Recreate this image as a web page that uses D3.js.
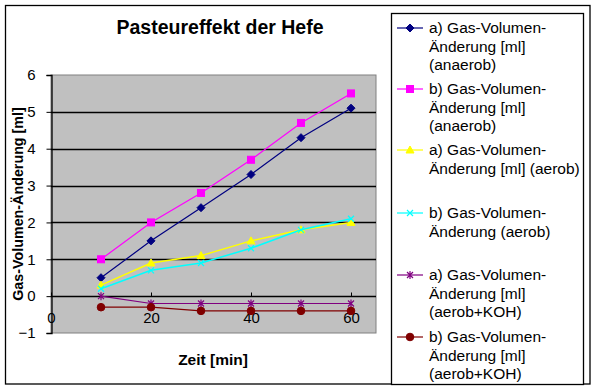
<!DOCTYPE html>
<html><head><meta charset="utf-8">
<script src="https://cdn.jsdelivr.net/npm/d3@7"></script>
<style>body{margin:0;background:#fff}svg text{font-family:"Liberation Sans",Arial,sans-serif}</style>
</head><body><svg id="c" width="597" height="391"></svg>
<script>
const xValues = [10, 20, 30, 40, 50, 60];
const seriesNames = [
  ["a) Gas-Volumen-", "Änderung [ml]", "(anaerob)"],
  ["b) Gas-Volumen-", "Änderung [ml]", "(anaerob)"],
  ["a) Gas-Volumen-", "Änderung [ml] (aerob)"],
  ["b) Gas-Volumen-", "Änderung (aerob)"],
  ["a) Gas-Volumen-", "Änderung [ml]", "(aerob+KOH)"],
  ["b) Gas-Volumen-", "Änderung [ml]", "(aerob+KOH)"]
];
const aAnaerob = [0.5, 1.5, 2.4, 3.3, 4.3, 5.1];
const bAnaerob = [1.0, 2.0, 2.8, 3.7, 4.7, 5.5];
const aAerob = [0.3, 0.9, 1.1, 1.5, 1.8, 2.0];
const bAerob = [0.2, 0.7, 0.9, 1.3, 1.8, 2.1];
const aKOH = [0.0, -0.2, -0.2, -0.2, -0.2, -0.2];
const bKOH = [-0.3, -0.3, -0.4, -0.4, -0.4, -0.4];
const yTicks = [-1, 0, 1, 2, 3, 4, 5, 6];
const xTicks = [0, 20, 40, 60];
const colors = ["#000080", "#FF00FF", "#FFFF00", "#00FFFF", "#800080", "#800000"];
const markers = ["diamond", "square", "triangle", "x", "star", "circle"];
const allSeries = [aAnaerob, bAnaerob, aAerob, bAerob, aKOH, bKOH];

const svg = d3.select("#c");
svg.append("rect").attr("x", 5.5).attr("y", 5.5).attr("width", 584.5).attr("height", 378.5)
  .attr("fill", "#fff").attr("stroke", "#000").attr("stroke-width", 1.3);

const L = 51, R = 376, T = 75, B = 333;
const x = d3.scaleLinear().domain([0, 65]).range([L, R]);
const y = d3.scaleLinear().domain([-1, 6]).range([B, T]);

svg.append("rect").attr("x", L).attr("y", T).attr("width", R - L).attr("height", B - T)
  .attr("fill", "#C0C0C0").attr("stroke", "#808080").attr("stroke-width", 1);

svg.append("g").selectAll("line").data(yTicks.filter(v => v >= 0 && v < 6)).join("line")
  .attr("x1", L).attr("x2", R).attr("y1", d => Math.round(y(d)) + 0.5).attr("y2", d => Math.round(y(d)) + 0.5)
  .attr("stroke", "#000").attr("stroke-width", 1.3);

const ya = svg.append("g").attr("transform", `translate(${L + 0.5},0)`)
  .call(d3.axisLeft(y).tickValues(yTicks).tickSize(5).tickPadding(11).tickFormat(d3.format("d")));
ya.select(".domain").attr("stroke", "#000").attr("stroke-width", 1.3);
ya.selectAll(".tick line").attr("stroke", "#000");
ya.selectAll("text").attr("font-size", 15).attr("fill", "#000");

const xa = svg.append("g").attr("transform", `translate(0,${Math.round(y(0)) + 0.5})`)
  .call(d3.axisBottom(x).tickValues(xTicks).tickSize(-4).tickPadding(16).tickFormat(d3.format("d")));
xa.select(".domain").remove();
xa.selectAll(".tick line").attr("stroke", "#000");
xa.selectAll("text").attr("font-size", 15).attr("fill", "#000");

function marker(g, type, color, cx, cy) {
  if (type === "diamond") {
    g.append("path").attr("d", `M${cx},${cy-4}L${cx+4},${cy}L${cx},${cy+4}L${cx-4},${cy}Z`).attr("fill", color).attr("stroke", color);
  } else if (type === "square") {
    g.append("rect").attr("x", cx-3.5).attr("y", cy-3.5).attr("width", 7).attr("height", 7).attr("fill", color).attr("stroke", color);
  } else if (type === "triangle") {
    g.append("path").attr("d", `M${cx},${cy-4}L${cx+4},${cy+3}L${cx-4},${cy+3}Z`).attr("fill", color).attr("stroke", color);
  } else if (type === "x") {
    g.append("path").attr("d", `M${cx-3},${cy-3}L${cx+3},${cy+3}M${cx-3},${cy+3}L${cx+3},${cy-3}`).attr("stroke", color).attr("stroke-width", 1.2);
  } else if (type === "star") {
    g.append("path").attr("d", `M${cx-3},${cy-3}L${cx+3},${cy+3}M${cx-3},${cy+3}L${cx+3},${cy-3}M${cx},${cy-4}L${cx},${cy+4}`).attr("stroke", color).attr("stroke-width", 1.2);
  } else if (type === "circle") {
    g.append("circle").attr("cx", cx).attr("cy", cy).attr("r", 3.8).attr("fill", color).attr("stroke", color);
  }
}

const line = d3.line().x((d, i) => x(xValues[i])).y(d => y(d));
allSeries.forEach((s, k) => {
  const g = svg.append("g");
  g.append("path").attr("d", line(s)).attr("fill", "none").attr("stroke", colors[k]).attr("stroke-width", k === 2 || k === 3 ? 1.5 : 1.2);
  s.forEach((v, i) => marker(g, markers[k], colors[k], x(xValues[i]), y(v)));
});

svg.append("text").attr("x", 220).attr("y", 34).attr("text-anchor", "middle")
  .attr("font-size", 19.5).attr("font-weight", "bold").text("Pasteureffekt der Hefe");
svg.append("text").attr("transform", "translate(23,204) rotate(-90)").attr("text-anchor", "middle")
  .attr("font-size", 14.3).attr("font-weight", "bold").text("Gas-Volumen-Änderung [ml]");
svg.append("text").attr("x", 213).attr("y", 365).attr("text-anchor", "middle")
  .attr("font-size", 15.5).attr("font-weight", "bold").text("Zeit [min]");

svg.append("rect").attr("x", 391.5).attr("y", 13.5).attr("width", 192).attr("height", 371)
  .attr("fill", "#fff").attr("stroke", "#000").attr("stroke-width", 1.3);
const legendTops = [28, 89, 150, 213, 275, 337];
seriesNames.forEach((lines, k) => {
  const g = svg.append("g");
  const cy = legendTops[k];
  g.append("line").attr("x1", 397).attr("x2", 423).attr("y1", cy).attr("y2", cy).attr("stroke", colors[k]).attr("stroke-width", 1.2);
  marker(g, markers[k], colors[k], 410, cy);
  lines.forEach((t, j) => {
    g.append("text").attr("x", 429).attr("y", cy + 5 + j * 18.5).attr("font-size", 15.5).text(t);
  });
});
</script></body></html>
